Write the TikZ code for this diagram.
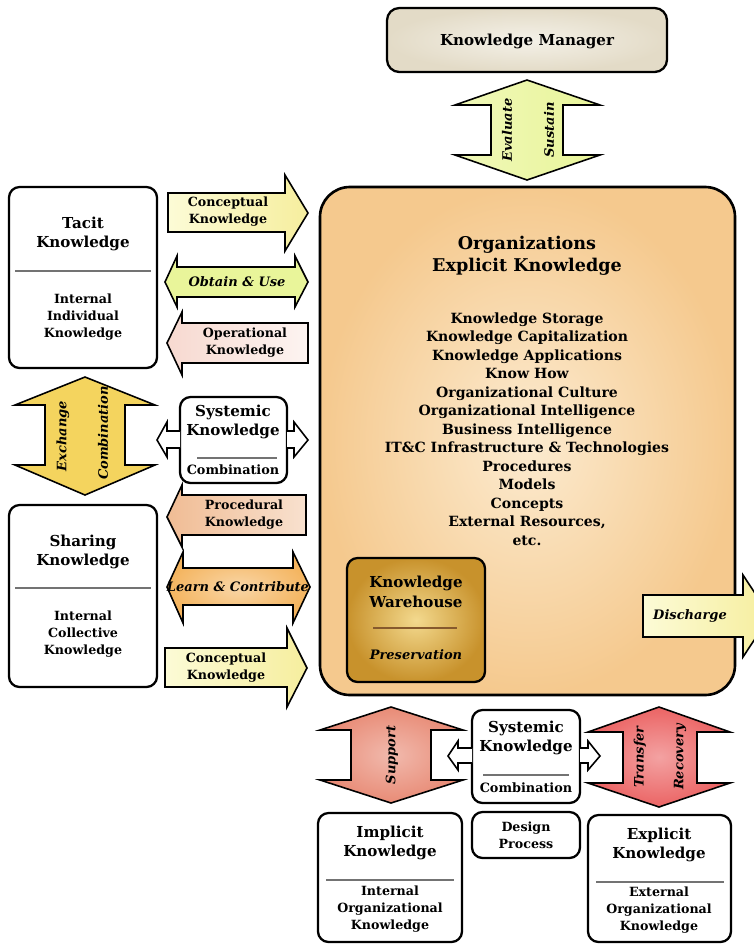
\documentclass[tikz,border=0pt]{standalone}
\usepackage{fontspec}
\setmainfont{DejaVu Serif}
\definecolor{peachin}{HTML}{FCEBD0}
\definecolor{peachout}{HTML}{F5C98E}
\definecolor{mgrin}{HTML}{F4F1E8}
\definecolor{mgrout}{HTML}{E3DBC7}
\definecolor{goldin}{HTML}{F3D98E}
\definecolor{goldout}{HTML}{C8922C}
\definecolor{lime}{HTML}{E9F59A}
\definecolor{paleyel}{HTML}{FCFBD6}
\definecolor{yel}{HTML}{F6EE9E}
\definecolor{pinkish}{HTML}{F7D9D0}
\definecolor{amber}{HTML}{F4D45E}
\definecolor{apricot}{HTML}{F0BC94}
\definecolor{orng}{HTML}{F4B45E}
\definecolor{salmon}{HTML}{E88B76}
\definecolor{coral}{HTML}{EB6464}
\begin{document}
\begin{tikzpicture}[x=0.02cm, y=-0.02cm,
  box/.style={draw, line width=1.3pt, rounded corners=6pt, fill=white},
  blk/.style={draw, line width=0.9pt, line join=miter},
  rule/.style={line width=0.6pt, black!55},
  hd/.style={font=\fontsize{8.6}{11}\selectfont\bfseries, align=center, inner sep=0pt},
  sm/.style={font=\fontsize{7.2}{9.6}\selectfont\bfseries, align=center, inner sep=0pt},
  cmb/.style={font=\fontsize{7.3}{9}\selectfont\bfseries, inner sep=0pt},
  lst/.style={font=\fontsize{8}{10.55}\selectfont\bfseries, align=center, inner sep=0pt},
  scr/.style={font=\fontsize{7.4}{9}\selectfont\bfseries\itshape, inner sep=0pt}]
  \useasboundingbox (0,0) rectangle (754,944);

  % Top: manager
  \draw[line width=1.3pt, rounded corners=7pt, inner color=mgrin, outer color=mgrout] (387,8) rectangle (667,72);
  \node[hd] (mgr) at (527,41) {Knowledge Manager};
  \draw[blk, left color=lime!70!white, right color=lime] (527,80) -- (600,105) -- (563,105) -- (563,155) -- (600,155)
    -- (527,180) -- (455,155) -- (491,155) -- (491,105) -- (455,105) -- cycle;
  \node[scr, rotate=90] (eval) at (507,130) {Evaluate};
  \node[scr, rotate=90] (sust) at (549,130) {Sustain};

  % Organization
  \draw[line width=1.5pt, rounded corners=17pt, inner color=peachin, outer color=peachout] (320,187) rectangle (735,695);
  \node[font=\fontsize{10}{12.5}\selectfont\bfseries, align=center, inner sep=0pt] (org) at (527,256)
    {Organizations\\Explicit Knowledge};
  \node[lst] (items) at (527,429) {Knowledge Storage\\Knowledge Capitalization\\Knowledge Applications\\Know How\\
    Organizational Culture\\Organizational Intelligence\\Business Intelligence\\IT\&C Infrastructure \& Technologies\\
    Procedures\\Models\\Concepts\\External Resources,\\etc.};
  \draw[line width=1.3pt, rounded corners=6pt, inner color=goldin, outer color=goldout] (347,558) rectangle (485,682);
  \node[hd] (whs) at (416,592) {Knowledge\\Warehouse};
  \draw[line width=1.2pt, brown!70!black] (373,628) -- (457,628);
  \node[scr] (prs) at (416,655) {Preservation};
  \draw[blk, left color=paleyel, right color=yel] (643,595) -- (743,595) -- (743,575) -- (770,616) -- (743,657)
    -- (743,637) -- (643,637) -- cycle;
  \node[scr] (dis) at (690,616) {Discharge};

  % Left: tacit
  \draw[box] (9,187) rectangle (157,368);
  \node[hd] (tac) at (83,234) {Tacit\\Knowledge};
  \draw[rule] (15,271) -- (151,271);
  \node[sm] (tacin) at (83,317) {Internal\\Individual\\Knowledge};
  \draw[blk, left color=paleyel, right color=yel] (168,193) -- (285,193) -- (285,175) -- (308,213) -- (285,251)
    -- (285,232) -- (168,232) -- cycle;
  \node[sm] (conc1) at (228,212) {Conceptual\\Knowledge};
  \draw[blk, fill=lime] (165,282) -- (177,256) -- (177,267) -- (295,267) -- (295,256) -- (308,282) -- (295,307)
    -- (295,297) -- (177,297) -- (177,307) -- cycle;
  \node[scr] (obt) at (237,282) {Obtain \& Use};
  \draw[blk, left color=pinkish, right color=pinkish!30!white] (167,343) -- (182,312) -- (182,323) -- (308,323)
    -- (308,363) -- (182,363) -- (182,375) -- cycle;
  \node[sm] (oper) at (245,343) {Operational\\Knowledge};

  % Left: exchange
  \draw[blk, fill=amber] (85,377) -- (155,405) -- (125,405) -- (125,465) -- (155,465) -- (85,495) -- (15,465)
    -- (45,465) -- (45,405) -- (15,405) -- cycle;
  \node[scr, rotate=90] (exc) at (63,436) {Exchange};
  \node[scr, rotate=90] (comb) at (103,433) {Combination};
  \draw[box] (180,397) rectangle (287,483);
  \node[hd] (sys1) at (233,422) {Systemic\\Knowledge};
  \draw[rule] (197,458) -- (277,458);
  \node[cmb] (sys1c) at (233,470) {Combination};
  \draw[blk, fill=white] (180,431) -- (167,431) -- (167,422) -- (157,440) -- (167,457) -- (167,448) -- (180,448);
  \draw[blk, fill=white] (287,431) -- (294,431) -- (294,422) -- (308,440) -- (294,457) -- (294,448) -- (287,448);
  \draw[blk, left color=apricot, right color=apricot!45!white] (167,517) -- (182,485) -- (182,495) -- (306,495)
    -- (306,535) -- (182,535) -- (182,547) -- cycle;
  \node[sm] (proc) at (244,515) {Procedural\\Knowledge};

  % Left: sharing
  \draw[box] (9,505) rectangle (157,687);
  \node[hd] (shr) at (83,552) {Sharing\\Knowledge};
  \draw[rule] (15,588) -- (151,588);
  \node[sm] (shrin) at (83,634) {Internal\\Collective\\Knowledge};
  \draw[blk, inner color=orng!55!white, outer color=orng] (167,587) -- (183,552) -- (183,568) -- (293,568)
    -- (293,552) -- (310,587) -- (293,623) -- (293,605) -- (183,605) -- (183,623) -- cycle;
  \node[scr] (lrn) at (238,587) {Learn \& Contribute};
  \draw[blk, left color=paleyel, right color=yel] (165,648) -- (287,648) -- (287,628) -- (307,668) -- (287,707)
    -- (287,687) -- (165,687) -- cycle;
  \node[sm] (conc2) at (226,668) {Conceptual\\Knowledge};

  % Bottom
  \draw[blk, inner color=salmon!60!white, outer color=salmon] (391,707) -- (463,730) -- (431,730) -- (431,780)
    -- (463,780) -- (391,803) -- (320,780) -- (351,780) -- (351,730) -- (320,730) -- cycle;
  \node[scr, rotate=90] (sup) at (392,755) {Support};
  \draw[box] (472,710) rectangle (580,803);
  \node[hd] (sys2) at (526,738) {Systemic\\Knowledge};
  \draw[rule] (483,775) -- (569,775);
  \node[cmb] (sys2c) at (526,788) {Combination};
  \draw[blk, fill=white] (472,748) -- (458,748) -- (458,741) -- (448,756) -- (458,770) -- (458,763) -- (472,763);
  \draw[blk, fill=white] (580,748) -- (588,748) -- (588,741) -- (600,756) -- (588,770) -- (588,763) -- (580,763);
  \draw[blk, inner color=coral!60!white, outer color=coral] (659,707) -- (730,732) -- (697,732) -- (697,783)
    -- (730,783) -- (659,807) -- (588,783) -- (623,783) -- (623,732) -- (588,732) -- cycle;
  \node[scr, rotate=90] (trf) at (640,757) {Transfer};
  \node[scr, rotate=90] (rec) at (680,757) {Recovery};
  \draw[box] (318,813) rectangle (462,942);
  \node[hd] (imp) at (390,843) {Implicit\\Knowledge};
  \draw[rule] (326,880) -- (454,880);
  \node[sm] (impin) at (390,909) {Internal\\Organizational\\Knowledge};
  \draw[box] (472,812) rectangle (580,858);
  \node[sm] (dsg) at (526,835) {Design\\Process};
  \draw[box] (588,815) rectangle (731,942);
  \node[hd] (exp) at (659,845) {Explicit\\Knowledge};
  \draw[rule] (596,882) -- (724,882);
  \node[sm] (expin) at (659,910) {External\\Organizational\\Knowledge};
\end{tikzpicture}
\end{document}
